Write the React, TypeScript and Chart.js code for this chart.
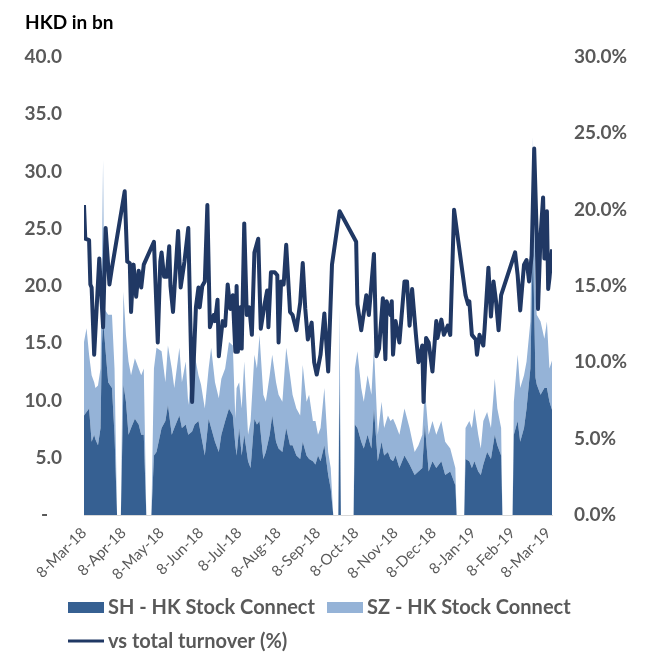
import React, { useEffect, useRef } from 'react';
import { Chart, registerables } from 'chart.js';

Chart.register(...registerables);

// Day offsets counted from 8-Mar-18
const tickDays = [0, 31, 61, 92, 122, 153, 184, 214, 245, 275, 306, 337, 365];
const tickLabels = ['8-Mar-18', '8-Apr-18', '8-May-18', '8-Jun-18', '8-Jul-18', '8-Aug-18', '8-Sep-18', '8-Oct-18', '8-Nov-18', '8-Dec-18', '8-Jan-19', '8-Feb-19', '8-Mar-19'];

// Stock Connect turnover (HKD bn)
const areaDays = [0, 2, 4, 6, 8, 9, 11, 13, 14, 15, 16, 19, 22, 24, 26, 29, 31, 33, 35, 37, 40, 43, 45, 47, 49, 53, 55, 57, 61, 64, 66, 69, 71, 75, 77, 80, 82, 85, 87, 90, 92, 95, 98, 100, 103, 106, 108, 111, 114, 117, 119, 120, 122, 124, 126, 129, 131, 134, 136, 138, 141, 143, 146, 148, 151, 153, 156, 159, 162, 164, 167, 170, 172, 175, 177, 180, 182, 184, 186, 189, 192, 194, 196, 200, 201, 202, 212, 213, 215, 218, 220, 223, 226, 228, 231, 234, 236, 239, 241, 243, 245, 248, 252, 256, 260, 263, 266, 268, 271, 274, 277, 281, 284, 288, 292, 293, 299, 300, 303, 305, 307, 310, 312, 314, 317, 320, 323, 325, 328, 329, 337, 338, 341, 343, 346, 348, 351, 353, 355, 356, 359, 362, 364, 366, 368];
const shValues = [8.7, 9.0, 9.3, 6.4, 7.0, 6.6, 6.1, 7.6, 14.6, 16.9, 15.7, 11.6, 11.1, 7.0, 0, 0, 11.4, 9.9, 7.0, 7.6, 8.4, 7.9, 7.0, 7.0, 0, 0, 5.2, 5.5, 7.6, 8.2, 9.6, 7.0, 7.6, 8.7, 7.6, 7.9, 7.0, 7.3, 7.9, 8.2, 7.0, 5.2, 8.4, 7.6, 6.4, 5.5, 7.0, 8.2, 9.3, 8.7, 6.1, 5.2, 7.6, 5.2, 7.0, 4.7, 4.1, 8.4, 7.9, 8.2, 4.9, 5.5, 7.0, 8.7, 6.4, 5.8, 5.5, 7.6, 6.1, 6.1, 5.2, 4.9, 6.4, 5.2, 4.9, 4.7, 4.4, 5.2, 4.7, 6.1, 3.5, 2.3, 0, 0, 12.0, 0, 0, 7.9, 7.6, 6.4, 5.8, 7.0, 5.8, 9.3, 4.7, 6.4, 5.2, 5.5, 4.9, 4.7, 5.2, 4.1, 5.2, 4.4, 3.5, 3.8, 4.1, 7.9, 3.8, 4.7, 4.1, 4.7, 3.5, 3.8, 2.6, 0, 0, 4.9, 4.7, 4.1, 4.7, 3.8, 3.5, 4.4, 5.5, 4.9, 7.0, 6.1, 5.2, 0, 0, 7.0, 8.2, 6.4, 7.6, 9.3, 12.8, 24.0, 12.0, 11.4, 10.5, 11.1, 11.1, 9.9, 9.2];
const szValues = [6.4, 7.3, 4.7, 5.8, 4.6, 4.5, 5.2, 5.2, 6.9, 14.1, 2.3, 5.9, 6.4, 5.8, 0, 0, 8.1, 5.8, 6.4, 4.6, 5.3, 4.9, 5.2, 5.8, 0, 0, 7.6, 9.1, 6.7, 3.4, 5.2, 5.8, 3.5, 5.9, 4.0, 5.5, 2.6, 5.5, 6.1, 4.0, 4.4, 4.1, 4.4, 7.0, 5.2, 4.7, 4.9, 4.6, 5.8, 6.1, 2.3, 5.9, 4.0, 4.1, 6.4, 2.3, 4.1, 5.6, 4.9, 7.5, 5.6, 4.4, 5.2, 5.3, 5.2, 4.7, 4.4, 7.0, 6.1, 4.4, 4.1, 3.8, 6.7, 4.7, 5.6, 3.5, 3.8, 1.8, 2.9, 5.0, 2.0, 1.8, 0, 0, 6.0, 0, 0, 4.9, 6.7, 4.7, 4.1, 5.2, 4.7, 5.3, 2.3, 3.5, 2.4, 3.2, 3.3, 3.7, 2.7, 2.9, 4.1, 3.2, 2.0, 2.3, 2.9, 3.2, 3.2, 3.5, 2.9, 3.5, 2.9, 2.0, 1.5, 0, 0, 2.7, 3.5, 3.5, 4.6, 3.2, 2.3, 3.8, 3.5, 2.7, 4.9, 3.2, 2.4, 0, 0, 2.9, 5.8, 4.7, 4.6, 4.1, 4.1, 9.0, 8.0, 6.1, 6.4, 4.3, 5.8, 2.9, 4.3];

// Southbound share of total turnover (%)
const lineDays = [0, 1, 4, 5, 6, 8, 12, 15, 17, 20, 22, 32, 34, 36, 37, 39, 41, 43, 45, 47, 55, 58, 60, 61, 63, 65, 67, 68, 70, 74, 76, 79, 82, 85, 88, 90, 91, 93, 95, 97, 99, 102, 103, 105, 106, 109, 111, 113, 115, 117, 119, 120, 121, 123, 124, 126, 128, 130, 132, 134, 137, 139, 142, 144, 145, 147, 150, 152, 153, 155, 157, 159, 162, 164, 167, 170, 172, 174, 176, 179, 181, 183, 186, 189, 192, 195, 201, 214, 215, 218, 222, 224, 228, 230, 232, 235, 237, 238, 241, 242, 243, 245, 248, 252, 254, 256, 258, 261, 263, 266, 267, 269, 271, 274, 277, 278, 281, 283, 286, 288, 291, 300, 302, 303, 305, 308, 309, 311, 314, 315, 318, 320, 322, 324, 326, 328, 339, 341, 343, 346, 348, 350, 352, 354, 356, 357, 359, 361, 362, 364, 365, 366, 368];
const pctValues = [20.3, 18.1, 18.0, 15.1, 14.9, 10.5, 16.8, 12.3, 18.8, 15.1, 16.2, 21.2, 16.6, 16.5, 13.3, 16.4, 14.3, 16.0, 14.9, 16.4, 17.9, 11.3, 16.6, 17.2, 15.6, 15.6, 17.6, 15.0, 13.3, 18.6, 14.9, 16.6, 18.8, 7.4, 13.6, 14.9, 13.6, 15.0, 15.3, 20.3, 12.3, 13.1, 12.7, 14.1, 10.4, 12.7, 12.4, 15.1, 13.5, 14.4, 10.7, 15.0, 10.7, 13.6, 10.9, 19.1, 13.1, 13.6, 11.8, 17.2, 18.1, 12.2, 13.8, 14.7, 12.3, 15.9, 15.9, 15.7, 11.3, 15.3, 15.1, 17.7, 13.3, 13.1, 12.1, 13.9, 16.5, 13.5, 11.5, 12.6, 10.0, 9.2, 10.5, 13.2, 9.4, 16.4, 19.9, 17.9, 13.8, 12.1, 14.4, 13.1, 17.1, 10.4, 10.9, 14.2, 10.2, 14.0, 13.1, 14.0, 10.5, 12.7, 11.3, 15.3, 15.3, 12.4, 14.8, 11.8, 10.0, 11.1, 7.4, 11.6, 11.3, 9.4, 12.7, 11.6, 12.8, 11.8, 12.4, 11.8, 20.0, 14.4, 13.8, 14.0, 11.8, 11.5, 10.5, 11.8, 11.1, 12.2, 16.2, 13.0, 15.3, 14.0, 12.1, 14.4, 17.2, 15.7, 13.4, 16.4, 16.7, 15.3, 17.0, 24.0, 18.3, 13.5, 18.3, 20.8, 16.8, 19.9, 14.8, 15.5, 17.4];

const FONT = 'Lato';
const GREY = '#595959';
const SH_COLOR = '#366092';
const SZ_COLOR = '#95B3D7';
const LINE_COLOR = '#203864';

const overlayPlugin = {
  id: 'overlay',
  afterDraw(chart: any) {
    const ctx = chart.ctx;
    ctx.save();
    ctx.textBaseline = 'middle';
    ctx.textAlign = 'left';
    ctx.fillStyle = '#000000';
    ctx.font = `bold 19px ${FONT}`;
    ctx.fillText('HKD in bn', 25, 23);

    ctx.font = `bold 20px ${FONT}`;
    // row 1
    ctx.fillStyle = SH_COLOR;
    ctx.fillRect(68, 602, 36, 11);
    ctx.fillStyle = GREY;
    ctx.fillText('SH - HK Stock Connect', 108, 608);
    ctx.fillStyle = SZ_COLOR;
    ctx.fillRect(327, 602, 36, 11);
    ctx.fillStyle = GREY;
    ctx.fillText('SZ - HK Stock Connect', 367, 608);
    // row 2
    ctx.strokeStyle = LINE_COLOR;
    ctx.lineWidth = 3;
    ctx.beginPath();
    ctx.moveTo(68, 641);
    ctx.lineTo(104, 641);
    ctx.stroke();
    ctx.fillStyle = GREY;
    ctx.fillText('vs total turnover (%)', 108, 642);
    ctx.restore();
  },
};

export default function App() {
  const ref = useRef<HTMLCanvasElement>(null);
  useEffect(() => {
    if (!ref.current) return;
    const chart = new Chart(ref.current, {
      type: 'line',
      data: {
        datasets: [
          {
            label: 'vs total turnover (%)',
            data: lineDays.map((d, i) => ({ x: d, y: pctValues[i] })),
            yAxisID: 'y1',
            borderColor: LINE_COLOR,
            borderWidth: 4,
            pointRadius: 0,
            fill: false,
            tension: 0,
            borderJoinStyle: 'round',
          },
          {
            label: 'SH - HK Stock Connect',
            data: areaDays.map((d, i) => ({ x: d, y: shValues[i] })),
            yAxisID: 'y',
            borderWidth: 0,
            borderColor: SH_COLOR,
            backgroundColor: SH_COLOR,
            pointRadius: 0,
            fill: 'origin',
            tension: 0,
            stack: 'a',
          },
          {
            label: 'SZ - HK Stock Connect',
            data: areaDays.map((d, i) => ({ x: d, y: szValues[i] })),
            yAxisID: 'y',
            borderWidth: 0,
            borderColor: SZ_COLOR,
            backgroundColor: SZ_COLOR,
            pointRadius: 0,
            fill: '-1',
            tension: 0,
            stack: 'a',
          },
        ],
      } as any,
      options: {
        responsive: false,
        animation: false,
        devicePixelRatio: 1,
        layout: { padding: { left: 8, right: 16, top: 57, bottom: 60 } },
        plugins: { legend: { display: false }, tooltip: { enabled: false }, title: { display: false } },
        scales: {
          x: {
            type: 'linear',
            min: 0,
            max: 368,
            afterBuildTicks: (s: any) => {
              s.ticks = tickDays.map((v) => ({ value: v }));
            },
            afterFit: (s: any) => {
              s.height = 78;
            },
            ticks: {
              autoSkip: false,
              minRotation: 45,
              maxRotation: 45,
              padding: 9,
              color: GREY,
              font: { family: FONT, size: 15 },
              callback: (_v: any, i: number) => tickLabels[i],
            },
            grid: { display: false, drawTicks: false },
            border: { display: true, color: '#D9D9D9', width: 1 },
          },
          y: {
            position: 'left',
            stacked: true,
            min: 0,
            max: 40,
            afterFit: (s: any) => {
              s.width = 76;
            },
            ticks: {
              stepSize: 5,
              padding: 22,
              color: GREY,
              font: { family: FONT, size: 19, weight: 'bold' },
              callback: (v: any) => (v === 0 ? '-   ' : Number(v).toFixed(1)),
            },
            grid: { display: false, drawTicks: false },
            border: { display: false },
          },
          y1: {
            position: 'right',
            min: 0,
            max: 30,
            afterFit: (s: any) => {
              s.width = 77;
            },
            ticks: {
              stepSize: 5,
              padding: 22,
              color: GREY,
              font: { family: FONT, size: 19, weight: 'bold' },
              callback: (v: any) => Number(v).toFixed(1) + '%',
            },
            grid: { display: false, drawTicks: false },
            border: { display: false },
          },
        },
      } as any,
      plugins: [overlayPlugin],
    });
    return () => chart.destroy();
  }, []);

  return (
    <div style={{ position: 'fixed', left: 0, top: 0, width: 645, height: 653, background: '#ffffff' }}>
      <canvas ref={ref} width={645} height={653} />
    </div>
  );
}
